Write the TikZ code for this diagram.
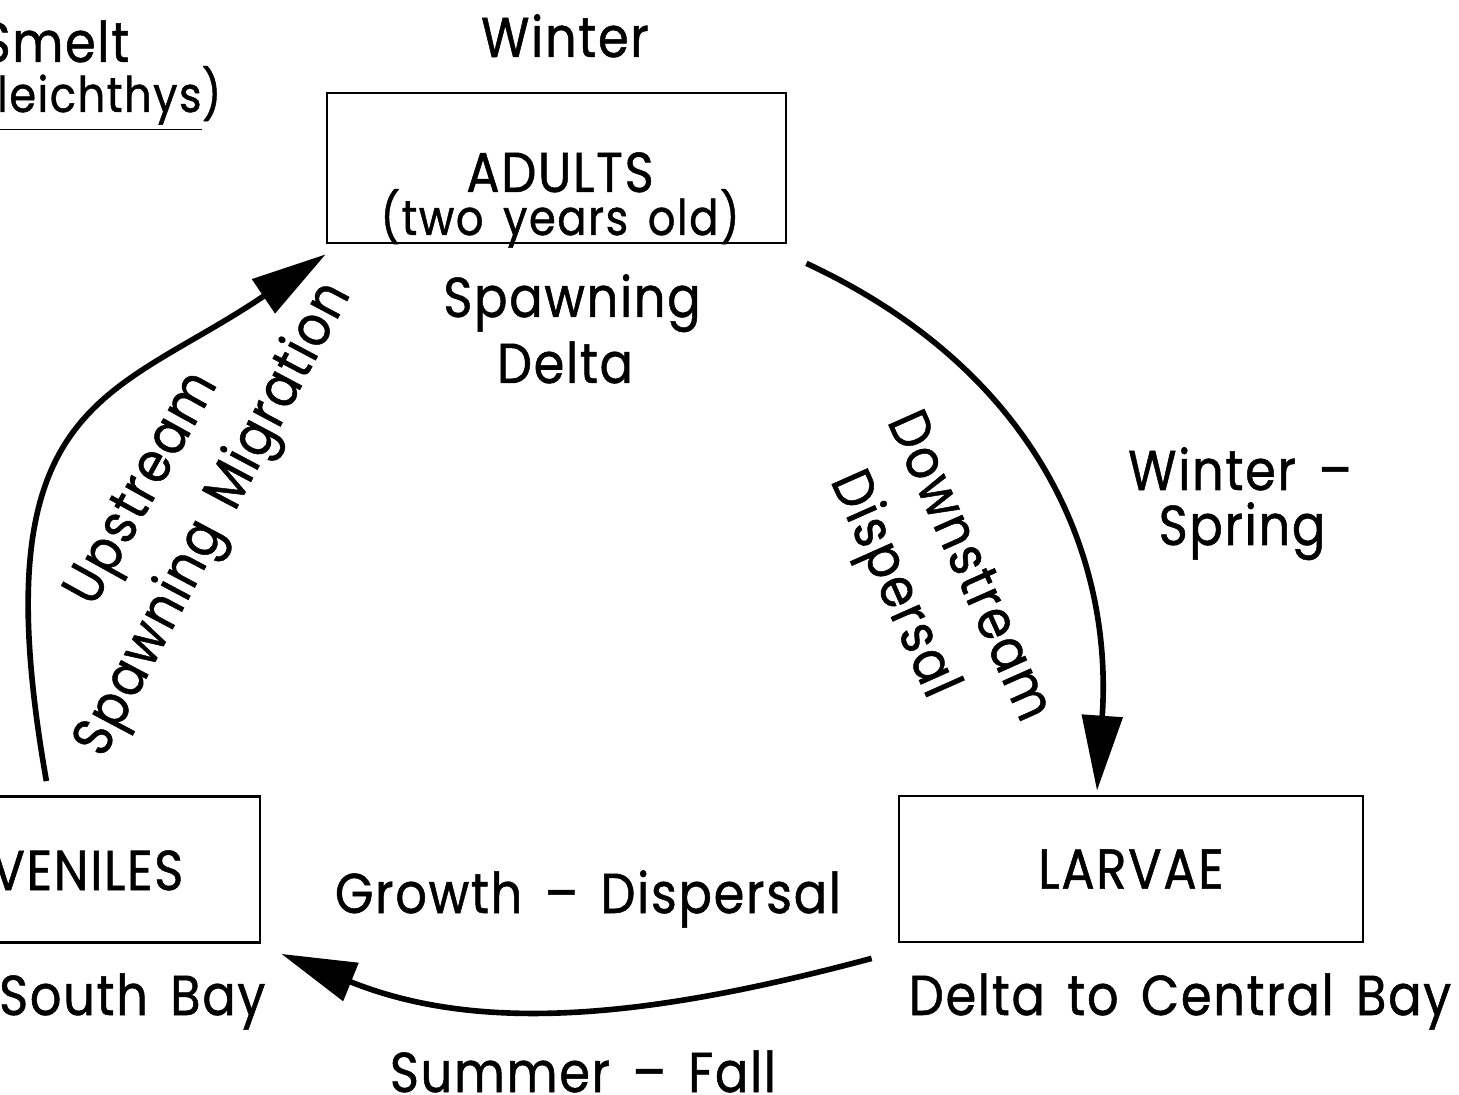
\documentclass[tikz,border=0pt]{standalone}
\usepackage{fontspec}
\setmainfont{Poppins}[FakeStretch=0.88,FakeBold=0.9,LetterSpace=3,WordSpace=1.5]
\usepackage{tikz}
\usetikzlibrary{calc,arrows.meta}

\tikzset{
	stage/.style={draw, line width=0.8pt, minimum height=1.46cm, inner sep=0pt},
	lbl/.style={font=\fontsize{16}{19}\selectfont, inner sep=0pt},
	small/.style={font=\fontsize{14}{17}\selectfont, inner sep=0pt},
	flow/.style={line width=1.6pt, -{Triangle[length=7.5mm,width=4mm]}},
}

\begin{document}
\begin{tikzpicture}
		%%%%% START %%%%%
		
		\useasboundingbox (0,0) rectangle (14.59,10.94);
		\clip (0,0) rectangle (14.59,10.94);
		
		% title, cut at the left edge
		\node[lbl, anchor=base east] (name) at (1.30, 10.32) {Longfin Smelt};
		\node[small, anchor=base east] (latin) at (2.22, 9.82) {(\underline{Spirinchus thaleichthys})};
		
		% the three stages
		\node[stage, minimum width=4.59cm, minimum height=1.50cm] (adults) at (5.565, 9.26) {};
		\node[lbl, anchor=base] (adulttxt) at (5.60, 9.02) {ADULTS};
		\node[small, anchor=base] (agetxt) at (5.60, 8.59) {(two years old)};
		
		\node[stage, minimum width=4.64cm, lbl] (larvae) at (11.31, 2.25) {LARVAE};
		\node[stage, minimum width=4.64cm] (juveniles) at (0.28, 2.245) {};
		\node[lbl, anchor=base east] (juvtxt) at (1.84, 2.04) {JUVENILES};
		
		% seasons and places
		\node[lbl, anchor=base] (winter) at (5.65, 10.37) {Winter};
		\node[lbl, anchor=base] (spawn) at (5.72, 7.77) {Spawning};
		\node[lbl, anchor=base] (delta) at (5.65, 7.11) {Delta};
		
		\node[lbl, anchor=base] (winter2) at (12.40, 6.04) {Winter --};
		\node[lbl, anchor=base] (spring) at (12.42, 5.49) {Spring};
		
		\node[lbl, anchor=base] (larvplace) at (11.80, 0.79) {Delta to Central Bay};
		\node[lbl, anchor=base east] (juvplace) at (2.66, 0.79) {South Bay};
		
		\node[lbl, anchor=base] (growth) at (5.88, 1.81) {Growth -- Dispersal};
		\node[lbl, anchor=base] (summer) at (5.83, 0.02) {Summer -- Fall};
		
		% labels along the arcs
		\node[lbl, rotate=-66] (down) at (9.72, 5.29) {Downstream};
		\node[lbl, rotate=-66] (disp) at (8.92, 5.09) {Dispersal};
		\node[lbl, rotate=61] (up) at (1.45, 6.04) {Upstream};
		\node[lbl, rotate=62] (migr) at (2.15, 5.74) {Spawning Migration};
		
		% the cycle
		\draw[flow] ($(adults.south east)+(0.19,-0.19)$) .. controls +(-25:2.6) and +(86:2.3) .. ($(larvae.north)+(-0.34,0.04)$);
		\draw[flow] ($(larvae.south west)+(-0.26,-0.15)$) .. controls +(195:2.2) and +(-22:2.2) .. ($(juveniles.south east)+(0.20,-0.10)$);
		\draw[flow] ($(juveniles.north east)+(-2.15,0.14)$) .. controls +(100:3.9) and +(214:2.6) .. ($(adults.south west)+(0,-0.10)$);
		
		%%%%% END %%%%%
	\end{tikzpicture}
\end{document}
